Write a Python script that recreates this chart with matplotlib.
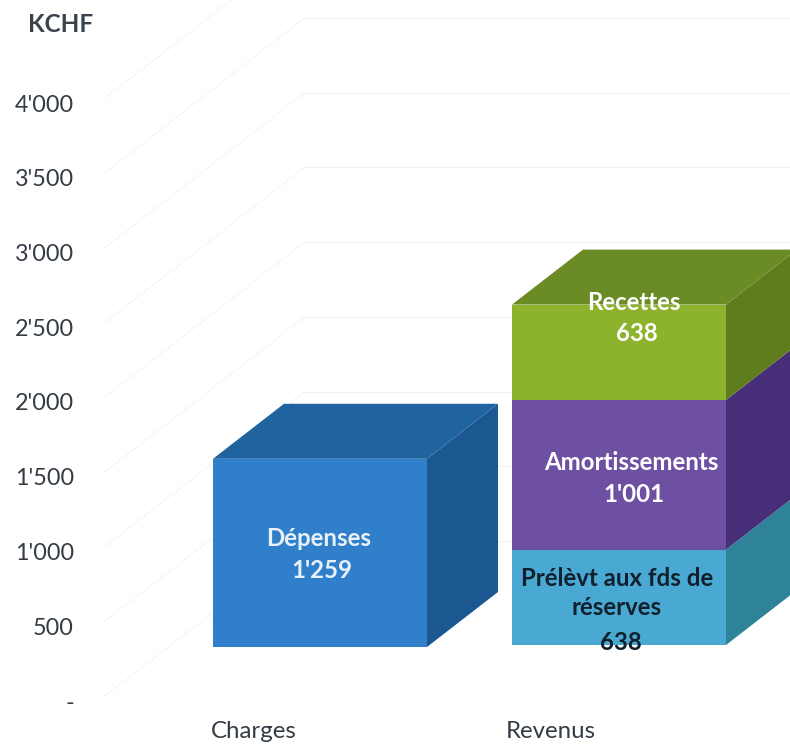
import matplotlib
matplotlib.use("Agg")
import matplotlib.pyplot as plt

plt.rcParams['font.family'] = ['Lato', 'DejaVu Sans']

tick_values = [0, 500, 1000, 1500, 2000, 2500, 3000, 3500, 4000]
tick_labels = ["-", "500", "1'000", "1'500", "2'000", "2'500", "3'000", "3'500", "4'000"]
categories = ["Charges", "Revenus"]
charges_names = ["Dépenses"]
charges_values = [1259]
revenus_names = ["Prélèvt aux fds de\nréserves", "Amortissements", "Recettes"]
revenus_values = [638, 1001, 638]

# pixel layout of the fake 3d box
SCALE = 0.1495   # px per KCHF
BASE_Y = 647
W, H = 790, 747
BAR_W = 214
DX, DY = 71, 55  # bar depth
LABEL_SIZE = 17.3


def val(py):
    return (BASE_Y - py) / SCALE


def box(ax, x, start, height, front, top, side, draw_top=False):
    dy = DY / SCALE
    ax.fill([x, x + BAR_W, x + BAR_W, x], [start, start, start + height, start + height],
            color=front, lw=0, zorder=3)
    ax.fill([x + BAR_W, x + BAR_W + DX, x + BAR_W + DX, x + BAR_W],
            [start, start + dy, start + height + dy, start + height],
            color=side, lw=0, zorder=2)
    if draw_top:
        ax.fill([x, x + BAR_W, x + BAR_W + DX, x + DX],
                [start + height, start + height, start + height + dy, start + height + dy],
                color=top, lw=0, zorder=2)


def bar_text(x, py, s, color, **kw):
    ax.text(x, val(py + 1), s, ha="center", va="center", fontsize=LABEL_SIZE,
            fontweight="bold", color=color, zorder=5, **kw)


fig = plt.figure(figsize=(W / 100, H / 100), dpi=100)
ax = fig.add_axes([0, 0, 1, 1])
ax.set_xlim(0, W)
ax.set_ylim(val(H), val(0))
ax.axis("off")

# faint grid, floor side then back wall
for v in tick_values:
    y0 = val(696) + v
    y1 = y0 + 155 / SCALE
    ax.plot([105, 305], [y0, y1], color="#e9edf5", lw=0.8, ls=(0, (1.5, 1.5)), zorder=1)
    ax.plot([305, W], [y1, y1], color="#eef1f6", lw=0.9, zorder=1)

for v, lab in zip(tick_values, tick_labels):
    ax.text(74, val(703) + v, lab, ha="right", va="center", fontsize=16.8, color="#333b44")
ax.text(61, val(25), "KCHF", ha="center", va="center", fontsize=17.5, fontweight="bold", color="#3a424c")

# Charges
box(ax, 213, 0, charges_values[0], "#2f7fcb", "#1f639f", "#1b5892", draw_top=True)
bar_text(319, 538, charges_names[0], "#e8f1fa")
bar_text(322, 570, "1'259", "#e8f1fa")

# Revenus, stacked
colors = [("#4aa9d3", "#2f8398", "#2f8398"),
          ("#6e50a3", "#462f78", "#462f78"),
          ("#8db22c", "#6b8b24", "#5f7d1c")]
start = val(645)
for i, (h, c) in enumerate(zip(revenus_values, colors)):
    box(ax, 512, start, h, c[0], c[1], c[2], draw_top=i == 2)
    start += h

bar_text(634, 301, revenus_names[2], "white")
bar_text(637, 332, "638", "white")
bar_text(631, 461, revenus_names[1], "white")
bar_text(634, 493, "1'001", "white")
bar_text(617, 592, revenus_names[0], "#10202c", linespacing=1.28)
bar_text(621, 642, "638", "#10202c")

# category labels
ax.text(254, val(732), categories[0], ha="center", va="center", fontsize=17.3, color="#333b44")
ax.text(551, val(732), categories[1], ha="center", va="center", fontsize=17.3, color="#333b44")

plt.savefig("out.png", dpi=100)
